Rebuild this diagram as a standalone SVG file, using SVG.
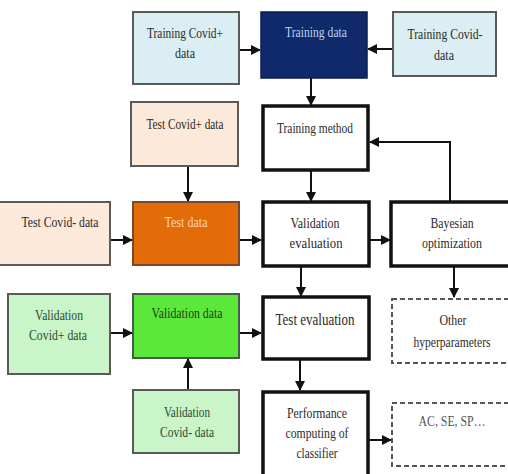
<svg xmlns="http://www.w3.org/2000/svg" width="508" height="474" viewBox="0 0 508 474">
<defs>
<style>
text{font-family:"Liberation Serif","Times New Roman",serif;font-size:15px;text-anchor:middle;fill:#2a2a2a}
.s{font-size:14px}
.tl{fill:#daeef3;stroke:#5a5a5a;stroke-width:2}
.tp{fill:#fde9d9;stroke:#5a5a5a;stroke-width:2}
.gl{fill:#c9f5c9;stroke:#5a5a5a;stroke-width:2}
.wb{fill:#fff;stroke:#111;stroke-width:3.5}
.db{fill:#fff;stroke:#555;stroke-width:2;stroke-dasharray:5 3}
.c{fill:none;stroke:#111;stroke-width:2}
.gt{fill:#2d4a2d}
</style>
<marker id="ah" viewBox="0 0 10 10" refX="9" refY="5" markerWidth="5" markerHeight="5" orient="auto" markerUnits="strokeWidth">
<path d="M0,0 L10,5 L0,10 z" fill="#111"/>
</marker>
</defs>
<rect width="508" height="474" fill="#fff"/>

<g id="connectors">
<line class="c" x1="239" y1="50" x2="260" y2="50" marker-end="url(#ah)"/>
<line class="c" x1="393" y1="49" x2="368" y2="49" marker-end="url(#ah)"/>
<line class="c" x1="311" y1="78" x2="311" y2="105" marker-end="url(#ah)"/>
<line class="c" x1="311" y1="170" x2="311" y2="201" marker-end="url(#ah)"/>
<polyline class="c" points="450,202 450,142 370,142" marker-end="url(#ah)"/>
<line class="c" x1="188" y1="166" x2="188" y2="201" marker-end="url(#ah)"/>
<line class="c" x1="110" y1="240" x2="132" y2="240" marker-end="url(#ah)"/>
<line class="c" x1="239" y1="240" x2="261" y2="240" marker-end="url(#ah)"/>
<line class="c" x1="369" y1="240" x2="390" y2="240" marker-end="url(#ah)"/>
<line class="c" x1="301" y1="266" x2="301" y2="296" marker-end="url(#ah)"/>
<line class="c" x1="454" y1="266" x2="454" y2="297" marker-end="url(#ah)"/>
<line class="c" x1="110" y1="333" x2="132" y2="333" marker-end="url(#ah)"/>
<line class="c" x1="239" y1="333" x2="261" y2="333" marker-end="url(#ah)"/>
<line class="c" x1="188" y1="390" x2="188" y2="359" marker-end="url(#ah)"/>
<line class="c" x1="300" y1="359" x2="300" y2="390" marker-end="url(#ah)"/>
<line class="c" x1="369" y1="440" x2="391" y2="440" marker-end="url(#ah)"/>
</g>

<g id="training-covid-pos">
<rect class="tl" x="133" y="12" width="106" height="72"/>
<text class="s" x="185" y="38" textLength="76" lengthAdjust="spacingAndGlyphs">Training Covid+</text>
<text x="185" y="58" textLength="20" lengthAdjust="spacingAndGlyphs">data</text>
</g>
<g id="training-data">
<rect x="261" y="12" width="106" height="66" fill="#10296b" stroke="#0a1d50" stroke-width="1.5"/>
<text x="316" y="37" textLength="62" lengthAdjust="spacingAndGlyphs" style="fill:#bcd0ee">Training data</text>
</g>
<g id="training-covid-neg">
<rect class="tl" x="393" y="12" width="103" height="64"/>
<text class="s" x="445" y="39" textLength="75" lengthAdjust="spacingAndGlyphs">Training Covid-</text>
<text x="444" y="60" textLength="20" lengthAdjust="spacingAndGlyphs">data</text>
</g>

<g id="test-covid-pos">
<rect class="tp" x="131" y="102" width="107" height="64"/>
<text class="s" x="185" y="129" textLength="77" lengthAdjust="spacingAndGlyphs">Test Covid+ data</text>
</g>
<g id="training-method">
<rect class="wb" x="263" y="106" width="105" height="64"/>
<text class="s" x="315" y="133" textLength="76" lengthAdjust="spacingAndGlyphs">Training method</text>
</g>

<g id="test-covid-neg">
<rect class="tp" x="-2" y="202" width="112" height="63"/>
<text class="s" x="60" y="227" textLength="77" lengthAdjust="spacingAndGlyphs">Test Covid- data</text>
</g>
<g id="test-data">
<rect x="133" y="202" width="106" height="63" fill="#e36c09" stroke="#7a4a2a" stroke-width="2"/>
<text x="186" y="227" textLength="43" lengthAdjust="spacingAndGlyphs" style="fill:#fcd5b4">Test data</text>
</g>
<g id="validation-evaluation">
<rect class="wb" x="263" y="202" width="106" height="64"/>
<text x="315" y="228" textLength="49" lengthAdjust="spacingAndGlyphs">Validation</text>
<text x="316" y="248" textLength="53" lengthAdjust="spacingAndGlyphs">evaluation</text>
</g>
<g id="bayesian-optimization">
<rect class="wb" x="391" y="202" width="125" height="64"/>
<text x="452" y="228" textLength="43" lengthAdjust="spacingAndGlyphs">Bayesian</text>
<text x="452" y="248" textLength="60" lengthAdjust="spacingAndGlyphs">optimization</text>
</g>

<g id="validation-covid-pos">
<rect class="gl" x="8" y="294" width="102" height="80"/>
<text class="gt" x="59" y="320" textLength="48" lengthAdjust="spacingAndGlyphs">Validation</text>
<text class="gt" x="58" y="340" textLength="58" lengthAdjust="spacingAndGlyphs">Covid+ data</text>
</g>
<g id="validation-data">
<rect x="133" y="294" width="106" height="64" fill="#5ce83a" stroke="#4a5a4a" stroke-width="2"/>
<text class="s" x="187" y="318" textLength="71" lengthAdjust="spacingAndGlyphs" style="fill:#1e3e1e">Validation data</text>
</g>
<g id="test-evaluation">
<rect class="wb" x="263" y="297" width="106" height="62"/>
<text x="315" y="325" textLength="79" lengthAdjust="spacingAndGlyphs" style="font-size:17px">Test evaluation</text>
</g>
<g id="other-hyperparameters">
<rect class="db" x="392" y="299" width="125" height="64"/>
<text x="453" y="325" textLength="27" lengthAdjust="spacingAndGlyphs">Other</text>
<text class="s" x="452" y="347" textLength="77" lengthAdjust="spacingAndGlyphs">hyperparameters</text>
</g>

<g id="validation-covid-neg">
<rect class="gl" x="133" y="390" width="106" height="63"/>
<text class="gt" x="187" y="417" textLength="46" lengthAdjust="spacingAndGlyphs">Validation</text>
<text class="gt" x="187" y="437" textLength="54" lengthAdjust="spacingAndGlyphs">Covid- data</text>
</g>
<g id="performance-computing">
<rect class="wb" x="263" y="392" width="105" height="95"/>
<text x="317" y="418" textLength="60" lengthAdjust="spacingAndGlyphs">Performance</text>
<text x="317" y="438" textLength="63" lengthAdjust="spacingAndGlyphs">computing of</text>
<text x="317" y="458" textLength="41" lengthAdjust="spacingAndGlyphs">classifier</text>
</g>
<g id="ac-se-sp">
<rect class="db" x="392" y="403" width="125" height="63"/>
<text x="452" y="426" textLength="67" lengthAdjust="spacingAndGlyphs" style="fill:#555">AC, SE, SP…</text>
</g>
</svg>
